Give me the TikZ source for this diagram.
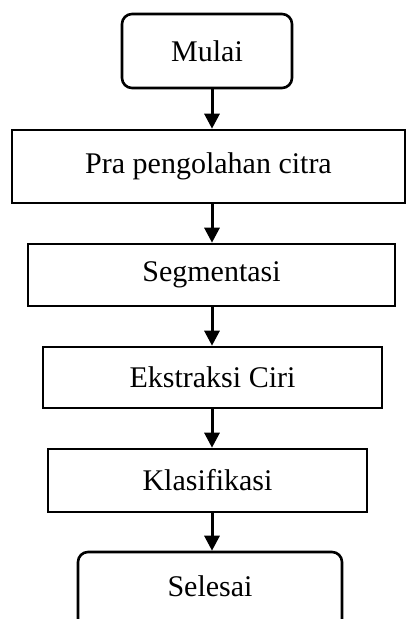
\documentclass[tikz,border=0pt]{standalone}
\usepackage{fontspec}
\setmainfont{Liberation Serif}
\usetikzlibrary{arrows.meta, positioning, calc}
\tikzset{
  every picture/.style={line width=2.6pt},
  box/.style={draw=black, align=center, inner sep=0pt, font=\fontsize{30}{36}\selectfont},
  term/.style={box, rounded corners=10pt},
  arrow/.style={-{Triangle[width=15pt, length=15pt]}, draw=black, line width=3pt},
}
\begin{document}
\begin{tikzpicture}[x=1pt, y=-1pt]
  \useasboundingbox (0,0) rectangle (407,619);
  \begin{scope}
  \clip (0,0) rectangle (407,619);
  % flow steps
  \node[term, minimum width=170pt, minimum height=74pt] (mulai) at (207,51) {Mulai};
  \node[box, minimum width=393pt, minimum height=73pt] (pra) at (208.5,166.5) {Pra pengolahan citra};
  \node[box, minimum width=367pt, minimum height=62pt] (segmen) at (211.5,275) {Segmentasi};
  \node[box, minimum width=339pt, minimum height=61pt] (ciri) at (212.5,377.5) {Ekstraksi Ciri};
  \node[box, minimum width=319pt, minimum height=63pt] (klas) at (207.5,480.5) {Klasifikasi};
  % last box runs off the page
  \node[term, minimum width=264pt, minimum height=100pt, text depth=32pt] (selesai) at (210,602) {Selesai};
  \end{scope}
  \coordinate (spine) at (212,0);
  \foreach \a/\b in {mulai/pra, pra/segmen, segmen/ciri, ciri/klas, klas/selesai}
    \draw[arrow] (\a.south -| spine) -- (\b.north -| spine);
\end{tikzpicture}
\end{document}
